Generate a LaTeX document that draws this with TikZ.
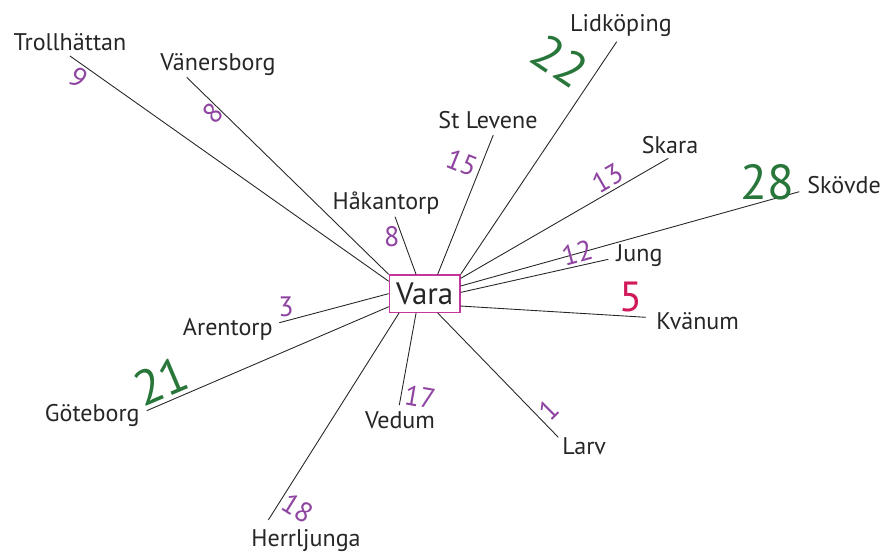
\documentclass[tikz,border=0pt]{standalone}
\usepackage{fontspec}
\setmainfont{PT Sans}
\usetikzlibrary{calc}
\definecolor{distPurple}{RGB}{142,68,160}
\definecolor{distGreen}{RGB}{40,118,58}
\definecolor{distRed}{RGB}{208,24,90}
\definecolor{hubMagenta}{RGB}{196,55,154}
\tikzstyle{thinLine}=[line width=.5pt]
\tikzstyle{Road}=[thinLine,black!85]
\tikzstyle{Town}=[inner sep=0pt,text=black!85,font=\fontsize{13.7}{16}\selectfont]
\tikzstyle{Hub}=[draw=hubMagenta,line width=.7pt,fill=white,minimum width=1.414cm,minimum height=.746cm,inner sep=0pt,text=black!85,font=\fontsize{17.6}{20}\selectfont]
\tikzstyle{Dist}=[inner sep=0pt,text=distPurple,font=\fontsize{16}{18}\selectfont]
\tikzstyle{DistLong}=[inner sep=0pt,text=distGreen,font=\fontsize{28}{30}\selectfont]
\tikzstyle{DistNear}=[inner sep=0pt,text=distRed,font=\fontsize{24}{26}\selectfont]

\begin{document}
\begin{tikzpicture}[x=0.02cm,y=-0.02cm]

  \useasboundingbox (0,0) rectangle (885,552);

  % Hub
  \node[Hub] (Vara) at (424.65,293.65) {Vara};

  % Towns
  \node[Town,anchor=base] (Trollhattan) at (70,50) {Trollhättan};
  \node[Town,anchor=base] (Vanersborg) at (218,70.7) {Vänersborg};
  \node[Town,anchor=base] (Hakantorp) at (386,209.3) {Håkantorp};
  \node[Town,anchor=base] (StLevene) at (488,128.3) {St Levene};
  \node[Town,anchor=base] (Lidkoping) at (621,31.7) {Lidköping};
  \node[Town,anchor=base] (Skara) at (670,153.3) {Skara};
  \node[Town,anchor=base west] (Skovde) at (807,193.3) {Skövde};
  \node[Town,anchor=base west] (Jung) at (616,261.7) {Jung};
  \node[Town,anchor=base west] (Kvanum) at (656,329.3) {Kvänum};
  \node[Town,anchor=base west] (Larv) at (562,454) {Larv};
  \node[Town,anchor=base] (Vedum) at (400,428.3) {Vedum};
  \node[Town,anchor=base] (Herrljunga) at (306,546.7) {Herrljunga};
  \node[Town,anchor=base east] (Goteborg) at (140,421) {Göteborg};
  \node[Town,anchor=base east] (Arentorp) at (273,335) {Arentorp};

  % Road ends
  \coordinate (TrollhattanEnd) at (70,56);
  \coordinate (VanersborgEnd) at (186.7,77.3);
  \coordinate (HakantorpEnd) at (395,216.7);
  \coordinate (StLeveneEnd) at (493.3,135);
  \coordinate (LidkopingEnd) at (616.7,41.7);
  \coordinate (SkaraEnd) at (668.3,158.3);
  \coordinate (SkovdeEnd) at (799.3,191.7);
  \coordinate (JungEnd) at (608.3,259.3);
  \coordinate (KvanumEnd) at (646,317.3);
  \coordinate (LarvEnd) at (558.3,437.3);
  \coordinate (VedumEnd) at (399.3,405);
  \coordinate (HerrljungaEnd) at (268.3,520);
  \coordinate (GoteborgEnd) at (146.7,410.7);
  \coordinate (ArentorpEnd) at (279.3,322.7);

  % Roads
  \draw[Road] (Vara.161.8) -- (TrollhattanEnd);
  \draw[Road] (Vara.north west) -- (VanersborgEnd);
  \draw[Road] (Vara.114.9) -- (HakantorpEnd);
  \draw[Road] (Vara.56.5) -- (StLeveneEnd);
  \draw[Road] (Vara.north east) -- (LidkopingEnd);
  \draw[Road] (Vara.23.9) -- (SkaraEnd);
  \draw[Road] (Vara.12.2) -- (SkovdeEnd);
  \draw[Road] (Vara.2.7) -- (JungEnd);
  \draw[Road] (Vara.-19.3) -- (KvanumEnd);
  \draw[Road] (Vara.-56.8) -- (LarvEnd);
  \draw[Road] (Vara.-114.6) -- (VedumEnd);
  \draw[Road] (Vara.-143.8) -- (HerrljungaEnd);
  \draw[Road] (Vara.-160.7) -- (GoteborgEnd);
  \draw[Road] (Vara.west) -- (ArentorpEnd);

  % Distances
  \node[Dist,rotate=-35] (dTrollhattan) at (78,78) {9};
  \node[Dist,rotate=45] (dVanersborg) at (212.7,113.3) {8};
  \node[Dist] (dHakantorp) at (391.7,236.7) {8};
  \node[Dist,rotate=-22] (dStLevene) at (461.7,162.7) {15};
  \node[DistLong,rotate=-34] (dLidkoping) at (560,61) {22};
  \node[Dist,rotate=30] (dSkara) at (608,178) {13};
  \node[DistLong] (dSkovde) at (767,182) {28};
  \node[Dist,rotate=15] (dJung) at (577,253) {12};
  \node[DistNear] (dKvanum) at (631,297) {5};
  \node[Dist,rotate=45] (dLarv) at (549,410) {1};
  \node[Dist,rotate=-10] (dVedum) at (420,397) {17};
  \node[Dist,rotate=-32] (dHerrljunga) at (298,508) {18};
  \node[DistLong,rotate=23] (dGoteborg) at (161,381) {21};
  \node[Dist] (dArentorp) at (286,307) {3};

\end{tikzpicture}
\end{document}
